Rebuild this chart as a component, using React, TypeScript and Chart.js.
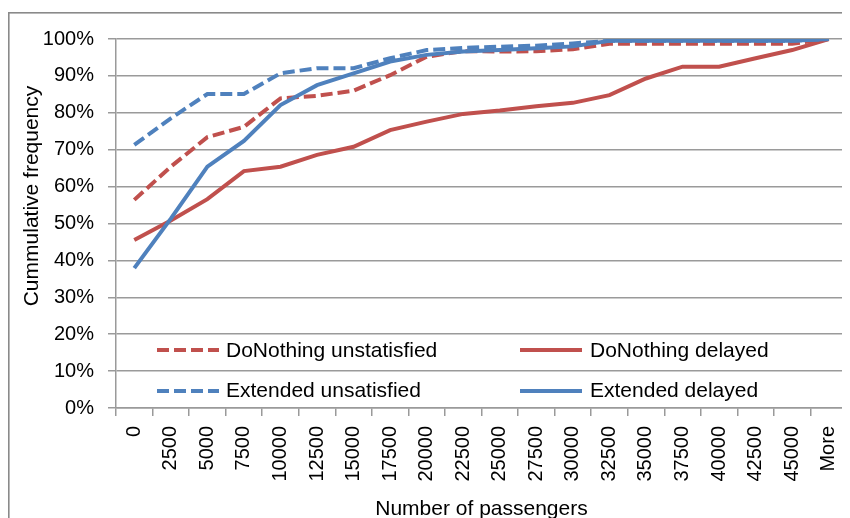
import React, { useEffect, useRef } from "react";
import { Chart, registerables } from "chart.js";

Chart.register(...registerables);

const xLabels = ["0", "2500", "5000", "7500", "10000", "12500", "15000", "17500", "20000", "22500", "25000", "27500", "30000", "32500", "35000", "37500", "40000", "42500", "45000", "More"];

const seriesNames = ["DoNothing unstatisfied", "DoNothing delayed", "Extended unsatisfied", "Extended delayed"];

const doNothingUnsatisfied = [56.4, 65.4, 73.4, 76.2, 83.9, 84.6, 86.0, 90.2, 95.2, 96.7, 96.6, 96.7, 97.2, 98.7, 98.7, 98.7, 98.7, 98.7, 98.7, 100];
const doNothingDelayed = [45.5, 50.8, 56.6, 64.2, 65.4, 68.6, 70.8, 75.3, 77.6, 79.7, 80.6, 81.8, 82.7, 84.8, 89.3, 92.5, 92.5, 94.8, 97.0, 100];
const extendedUnsatisfied = [71.3, 78.5, 85.1, 85.1, 90.7, 92.1, 92.1, 94.8, 97.0, 97.6, 97.9, 98.2, 98.8, 99.5, 99.5, 99.5, 99.5, 99.5, 99.5, 100];
const extendedDelayed = [37.9, 51.3, 65.4, 72.4, 82.1, 87.5, 90.7, 93.9, 95.7, 96.6, 97.0, 97.5, 98.0, 99.5, 99.5, 99.5, 99.5, 99.5, 99.5, 100];

const yTitle = "Cummulative frequency";
const xTitle = "Number of passengers";

const RED = "#C0504D";
const BLUE = "#4F81BD";
const GRID = "#9a9a9a";
const FONT = "'Liberation Sans', Arial, sans-serif";

const frame = {
  id: "frame",
  beforeDraw(chart: any) {
    const { ctx, width, height } = chart;
    ctx.save();
    ctx.fillStyle = "#8a8a8a";
    ctx.fillRect(0, 4, width, 1.6);
    ctx.fillRect(0, 4, 1.6, height);
    ctx.restore();
  },
};

const extras = {
  id: "extras",
  afterDraw(chart: any) {
    const { ctx, chartArea } = chart;
    const { left, right, bottom } = chartArea;
    ctx.save();
    const ds = chart.data.datasets;
    const cols = [
      { sx: left + 41, tx: left + 110 },
      { sx: left + 404, tx: left + 474 },
    ];
    const rows = [
      { ly: bottom - 58, by: bottom - 51 },
      { ly: bottom - 17, by: bottom - 11 },
    ];
    ds.forEach((d: any, i: number) => {
      const c = cols[i % 2];
      const r = rows[Math.floor(i / 2)];
      ctx.beginPath();
      ctx.strokeStyle = d.borderColor;
      ctx.lineWidth = d.borderWidth;
      ctx.setLineDash(d.borderDash || []);
      ctx.lineCap = "butt";
      ctx.moveTo(c.sx, r.ly);
      ctx.lineTo(c.sx + 62, r.ly);
      ctx.stroke();
      ctx.setLineDash([]);
      ctx.fillStyle = "#000";
      ctx.font = `21px ${FONT}`;
      ctx.textAlign = "left";
      ctx.textBaseline = "alphabetic";
      ctx.fillText(d.label, c.tx, r.by);
    });
    ctx.fillStyle = "#000";
    ctx.font = `21px ${FONT}`;
    ctx.textAlign = "center";
    ctx.textBaseline = "alphabetic";
    ctx.fillText(xTitle, (left + right) / 2, 507);
    ctx.translate(30, 188);
    ctx.rotate(-Math.PI / 2);
    ctx.fillText(yTitle, 0, 0);
    ctx.restore();
  },
};

export default function App() {
  const ref = useRef<HTMLCanvasElement | null>(null);
  useEffect(() => {
    if (!ref.current) return;
    const mk = (label: string, data: number[], color: string, dashed: boolean, order: number) => ({
      label,
      data,
      borderColor: color,
      backgroundColor: color,
      borderWidth: 4,
      borderDash: dashed ? [12, 5] : [],
      pointRadius: 0,
      tension: 0,
      fill: false,
      order,
    });
    const chart = new Chart(ref.current, {
      type: "line",
      data: {
        labels: xLabels,
        datasets: [
          mk(seriesNames[0], doNothingUnsatisfied, RED, true, 4),
          mk(seriesNames[1], doNothingDelayed, RED, false, 3),
          mk(seriesNames[2], extendedUnsatisfied, BLUE, true, 2),
          mk(seriesNames[3], extendedDelayed, BLUE, false, 1),
        ],
      },
      options: {
        responsive: false,
        animation: false,
        events: [],
        layout: { padding: { left: 0, top: 31, right: 3, bottom: 0 } },
        plugins: { legend: { display: false }, tooltip: { enabled: false }, title: { display: false } },
        scales: {
          x: {
            type: "category",
            offset: true,
            grid: { display: true, drawOnChartArea: false, drawTicks: true, tickLength: 8, offset: true, color: GRID, lineWidth: 1.5 },
            border: { display: true, color: GRID, width: 1.5 },
            ticks: {
              autoSkip: false,
              minRotation: 90,
              maxRotation: 90,
              padding: 10,
              color: "#000",
              font: { family: FONT, size: 20 },
            },
            afterFit(scale: any) {
              scale.height = 110;
              scale.paddingLeft = 0;
              scale.paddingRight = 0;
            },
          },
          y: {
            min: 0,
            max: 100,
            ticks: {
              stepSize: 10,
              padding: 14,
              color: "#000",
              font: { family: FONT, size: 20 },
              callback: (v: any) => `${v}%`,
            },
            grid: { color: GRID, lineWidth: 1.5, tickLength: 8, drawTicks: true },
            border: { display: true, color: GRID, width: 1.5 },
            afterFit(scale: any) {
              scale.width = 108;
              scale.paddingTop = 0;
              scale.paddingBottom = 0;
            },
          },
        },
      },
      plugins: [frame, extras],
    } as any);
    return () => chart.destroy();
  }, []);
  return <canvas ref={ref} width={842} height={510} style={{ display: "block" }} />;
}
